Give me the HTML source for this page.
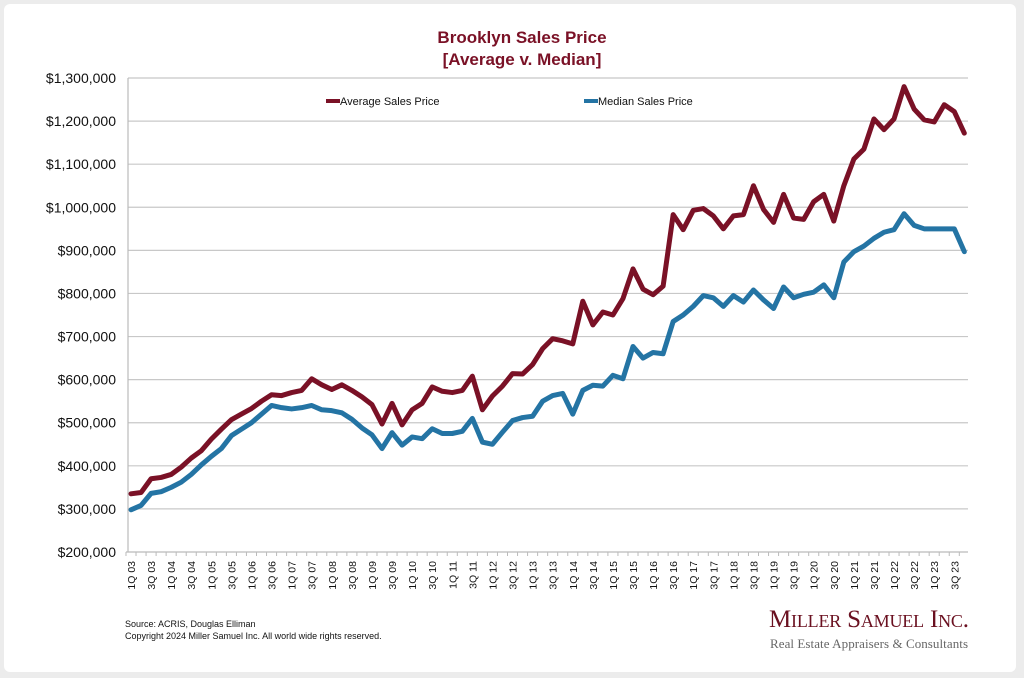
<!DOCTYPE html>
<html><head><meta charset="utf-8"><style>
html,body{margin:0;padding:0;background:#ececec;}
#wrap{position:absolute;left:4px;top:4px;width:1012px;height:668px;background:#fff;border-radius:6px;}
svg{position:absolute;left:0;top:0;}
</style></head><body>
<div id="wrap"></div>
<svg id="chart" width="1024" height="678" font-family="Liberation Sans, Arial, sans-serif"></svg>
<script>
const quarterLabels=[];
for(let y=3;y<=23;y++){for(let q=1;q<=4;q++){quarterLabels.push(q+"Q "+String(y).padStart(2,"0"));}}
const averagePrice=[335,338,370,373,380,397,418,435,462,485,507,520,533,550,565,563,570,575,602,588,577,588,575,560,542,497,545,495,530,545,583,573,570,575,608,530,562,585,614,613,635,672,695,690,683,782,727,757,750,788,857,810,797,817,983,948,993,997,980,950,980,983,1050,995,965,1030,975,972,1013,1030,968,1050,1112,1135,1205,1180,1205,1280,1228,1203,1198,1238,1222,1172];
const medianPrice=[298,308,336,340,350,362,380,402,422,440,470,485,500,520,540,535,532,535,540,530,528,523,508,488,472,440,477,448,467,463,486,475,475,480,510,455,450,478,505,512,515,550,563,568,520,575,587,585,610,602,677,650,663,660,735,750,770,795,790,770,795,780,808,785,765,815,790,798,803,820,790,873,897,910,928,942,948,985,958,950,950,950,950,897];
const yTicks=[200,300,400,500,600,700,800,900,1000,1100,1200,1300];
const NS="http://www.w3.org/2000/svg";
const svg=document.getElementById("chart");
const X0=131,DX=10.04,Y0=552,YTOP=78,VMIN=200,VMAX=1300;
const xs=i=>X0+i*DX;
const ys=v=>Y0-(v-VMIN)/(VMAX-VMIN)*(Y0-YTOP);
function el(tag,attrs,text){const e=document.createElementNS(NS,tag);for(const k in attrs)e.setAttribute(k,attrs[k]);if(text!==undefined)e.textContent=text;svg.appendChild(e);return e;}
let t=el("text",{x:522,y:43,"text-anchor":"middle","font-size":"17","font-weight":"bold",fill:"#7a1126"},"Brooklyn Sales Price");


t=el("text",{x:522,y:65,"text-anchor":"middle","font-size":"17","font-weight":"bold",fill:"#7a1126"},"[Average v. Median]");


yTicks.forEach(v=>{
  const y=ys(v);
  if(v>VMIN){const g=el("line",{x1:128,x2:968,y1:y,y2:y,stroke:"#c8c8c8","stroke-width":1.2});
  
  }
  const l=el("text",{x:116,y:y+5,"text-anchor":"end","font-size":"14",fill:"#111"},"$"+(v*1000).toLocaleString("en-US"));
  
  
});
let ax=el("line",{x1:128,x2:128,y1:YTOP,y2:Y0,stroke:"#bbb","stroke-width":1.2});


ax=el("line",{x1:126,x2:968,y1:Y0,y2:Y0,stroke:"#bbb","stroke-width":1.2});


quarterLabels.forEach((q,i)=>{
  const tk=el("line",{x1:xs(i)-DX/2,x2:xs(i)-DX/2,y1:Y0,y2:Y0+4,stroke:"#bbb"});
  
  
  if(i%2===0){
    const x=xs(i)+4;
    const l=el("text",{x:x,y:561,transform:`rotate(-90 ${x} 561)`,"text-anchor":"end","font-size":"10.5",fill:"#111"},q);
    
    
  }
});
function series(data,color,name){
  const p=el("polyline",{points:data.map((v,i)=>xs(i)+","+ys(v)).join(" "),fill:"none",stroke:color,"stroke-width":5,"stroke-linejoin":"round","stroke-linecap":"round"});
  
  
}
series(medianPrice,"#2474a4","median-sales-price-line");
series(averagePrice,"#7a1126","average-sales-price-line");
let lg=el("line",{x1:326,x2:340,y1:101,y2:101,stroke:"#7a1126","stroke-width":4});


lg=el("text",{x:340,y:105,"font-size":"11",fill:"#111"},"Average Sales Price");


lg=el("line",{x1:584,x2:598,y1:101,y2:101,stroke:"#2474a4","stroke-width":4});


lg=el("text",{x:598,y:105,"font-size":"11",fill:"#111"},"Median Sales Price");


let f=el("text",{x:125,y:627,"font-size":"9",fill:"#111"},"Source: ACRIS, Douglas Elliman");


f=el("text",{x:125,y:639,"font-size":"9",fill:"#111"},"Copyright 2024 Miller Samuel Inc.  All world wide rights reserved.");


f=el("text",{x:769,y:627,"font-size":"25","font-family":"Liberation Serif, serif",fill:"#6a1020","font-variant":"small-caps",textLength:"200"},"Miller Samuel Inc.");


f=el("text",{x:770,y:648,"font-size":"13","font-family":"Liberation Serif, serif",fill:"#666",textLength:"198"},"Real Estate Appraisers & Consultants");


</script>
</body></html>
